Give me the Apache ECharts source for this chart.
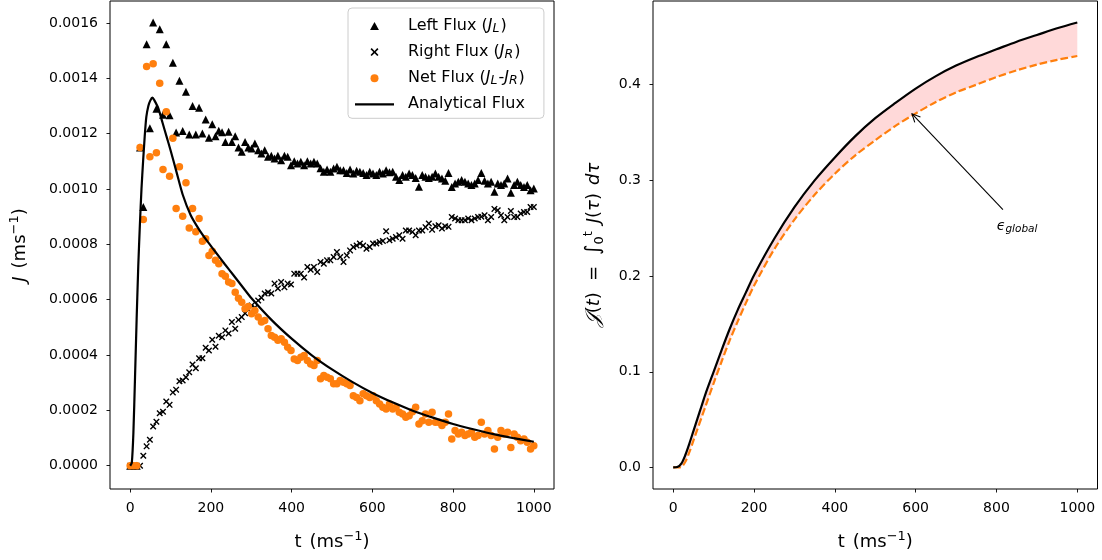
<!DOCTYPE html>
<html><head><meta charset="utf-8">
<script src="https://cdn.jsdelivr.net/npm/echarts@6/dist/echarts.min.js"></script>
<style>html,body{margin:0;padding:0;background:#fff}#c{width:1102px;height:560px}</style>
</head><body><div id="c"></div>
<script>
// ---- data ----
const times = [0,8.1,16.3,24.4,32.5,40.7,48.8,56.9,65,73.2,81.3,89.4,97.6,105.7,113.8,122,130.1,138.2,146.3,154.5,162.6,170.7,178.9,187,195.1,203.3,211.4,219.5,227.6,235.8,243.9,252,260.2,268.3,276.4,284.6,292.7,300.8,308.9,317.1,325.2,333.3,341.5,349.6,357.7,365.9,374,382.1,390.2,398.4,406.5,414.6,422.8,430.9,439,447.2,455.3,463.4,471.5,479.7,487.8,495.9,504.1,512.2,520.3,528.5,536.6,544.7,552.8,561,569.1,577.2,585.4,593.5,601.6,609.8,617.9,626,634.1,642.3,650.4,658.5,666.7,674.8,682.9,691.1,699.2,707.3,715.4,723.6,731.7,739.8,748,756.1,764.2,772.4,780.5,788.6,796.7,804.9,813,821.1,829.3,837.4,845.5,853.7,861.8,869.9,878,886.2,894.3,902.4,910.6,918.7,926.8,935,943.1,951.2,959.3,967.5,975.6,983.7,991.9,1000];

const leftFlux = [0,0,0,0.00115,0.000935,0.001523,0.001219,0.001601,0.00129,0.001577,
0.001268,0.001523,0.001266,0.001456,0.001204,0.001391,0.001209,0.001351,0.001197,0.0013,
0.001197,0.001293,0.0012,0.001251,0.001185,0.001234,0.00119,0.00121,0.001205,0.00117,
0.001207,0.00117,0.00119,0.00115,0.001134,0.00117,0.00115,0.001146,0.001164,0.00114,
0.001128,0.00114,0.001116,0.00112,0.00111,0.00112,0.001104,0.00112,0.001116,0.001086,
0.0011,0.001092,0.001098,0.001086,0.0011,0.001092,0.001098,0.001092,0.001075,0.001062,
0.00107,0.001062,0.001074,0.00108,0.001068,0.001068,0.001058,0.00107,0.001056,0.001066,
0.001062,0.001058,0.00105,0.001062,0.001056,0.00105,0.001062,0.001056,0.001068,0.00106,
0.001062,0.001044,0.001032,0.00105,0.001044,0.001056,0.00105,0.00104,0.001008,0.00105,
0.001044,0.00104,0.001044,0.001056,0.001044,0.001038,0.00103,0.001058,0.001007,0.00102,
0.001026,0.001032,0.001026,0.00102,0.001014,0.00102,0.001032,0.001058,0.00103,0.00102,
0.001026,0.00099,0.00102,0.001014,0.00102,0.001038,0.000986,0.001014,0.001026,0.001014,
0.001007,0.001014,0.000995,0.001002];

const rightFlux = [0,0,0,0,0.000036,0.00007,0.000094,0.000142,0.000159,0.00019,
0.000195,0.000232,0.00022,0.000265,0.000275,0.000305,0.000308,0.00032,0.000338,0.000366,
0.000352,0.000388,0.000388,0.000426,0.000416,0.000455,0.00043,0.00047,0.000464,0.000489,
0.000478,0.000519,0.000495,0.000527,0.000537,0.000551,0.000564,0.000579,0.000572,0.000597,
0.000607,0.000622,0.000627,0.000622,0.000658,0.00064,0.000664,0.000645,0.000658,0.000655,
0.000694,0.000694,0.000694,0.00068,0.000718,0.000708,0.000718,0.0007,0.000736,0.00073,
0.000742,0.000742,0.000754,0.000772,0.000754,0.000736,0.00076,0.000778,0.00079,0.000796,
0.000803,0.000796,0.000784,0.00079,0.000803,0.000803,0.000808,0.000812,0.000847,0.000815,
0.00082,0.000826,0.000833,0.00082,0.00085,0.00085,0.000845,0.000833,0.00085,0.00085,
0.000862,0.000875,0.000853,0.000865,0.000869,0.000857,0.000865,0.000863,0.000899,0.000893,
0.000887,0.000887,0.000887,0.000893,0.000887,0.000893,0.000899,0.0009,0.000905,0.000887,
0.000899,0.000928,0.000923,0.000905,0.000887,0.000899,0.00092,0.000899,0.000899,0.000911,
0.000917,0.000917,0.000935,0.000935];

const netFlux = [0,0,0,0.00115,0.00089,0.001442,0.001116,0.001452,0.001131,0.001382,
0.00107,0.001279,0.001046,0.001183,0.000929,0.00108,0.000901,0.001022,0.000859,0.000929,
0.000845,0.000893,0.000811,0.00082,0.00076,0.000775,0.000742,0.00073,0.000694,0.000685,
0.000664,0.000658,0.000627,0.000605,0.000591,0.000567,0.000575,0.000549,0.000561,0.000537,
0.000519,0.000525,0.000495,0.000471,0.000464,0.000453,0.000459,0.000446,0.000428,0.000416,
0.000386,0.00038,0.000392,0.000398,0.00038,0.000368,0.000362,0.00038,0.000314,0.000326,
0.00032,0.000314,0.000296,0.000296,0.000308,0.000302,0.000296,0.00029,0.000253,0.000247,
0.000235,0.00026,0.000253,0.000247,0.000253,0.000235,0.000223,0.000211,0.000205,0.000223,
0.000205,0.000211,0.000193,0.000187,0.000175,0.000181,0.000195,0.000211,0.000151,0.000163,
0.000187,0.000157,0.000193,0.000157,0.000157,0.000145,0.000157,0.000187,0.0000967,0.000127,
0.000115,0.000121,0.000109,0.000115,0.000121,0.000103,0.000109,0.000157,0.000115,0.000127,
0.000109,0.0000604,0.000103,0.000127,0.000115,0.000121,0.0000663,0.000115,0.000103,0.0000905,
0.000097,0.0000845,0.0000604,0.000072];

const analyticT = [0,4,8,12,16,20,24,28,32,36,40,45,50,55,60,70,80,90,100,115,130,150,170,190,210,235,255,280,300,350,400,450,500,550,600,650,700,750,800,850,900,950,1000];
const analyticJ = [0,0.00001,0.00012,0.00032,0.00053,0.00072,0.00087,0.001,0.0011,0.00119,0.00126,0.0013,0.00132,0.00133,0.00132,0.00129,0.00124,0.00119,0.00114,0.00106,0.00098,0.000905,0.000855,0.000813,0.000775,0.000727,0.00069,0.000643,0.000606,0.000527,0.000459,0.000399,0.000348,0.000303,0.000263,0.000229,0.000199,0.000174,0.000151,0.000132,0.000114,0.0000995,0.0000866];

const cumT = [0,10,20,30,40,50,60,70,80,100,120,140,160,180,200,250,300,350,400,450,500,550,600,650,700,750,800,850,900,950,1000];
const cumAnalytic = [0,0.0004,0.004,0.013,0.025,0.038,0.051,0.064,0.077,0.1,0.123,0.145,0.165,0.183,0.201,0.239,0.272,0.3,0.324,0.346,0.365,0.381,0.396,0.409,0.42,0.429,0.437,0.445,0.452,0.459,0.465];
const cumNet = [0,0,0.0005,0.006,0.016,0.028,0.04,0.052,0.064,0.088,0.111,0.133,0.153,0.172,0.19,0.228,0.259,0.285,0.307,0.326,0.342,0.357,0.37,0.382,0.392,0.4,0.408,0.415,0.421,0.426,0.43];

const xTicks = [0,200,400,600,800,1000];
const yTicksLeft = [0,0.0002,0.0004,0.0006,0.0008,0.001,0.0012,0.0014,0.0016];
const yTicksRight = [0,0.1,0.2,0.3,0.4];

// annotation (data coordinates)
const arrowTail = [816, 0.2694];
const arrowHead = [591, 0.3696];
const arrowText = [851, 0.252];

// ---- chart ----
const FF = 'DejaVu Sans';
const pair = (xs, ys) => xs.map((x, i) => [x, ys[i]]);
const ORANGE = '#ff7f0e';

const nameRich = {
  n: {fontSize: 18, fontFamily: FF, color: '#000', lineHeight: 24},
  i: {fontSize: 18, fontFamily: FF, fontStyle: 'italic', color: '#000', lineHeight: 24},
  sp: {fontSize: 18, fontFamily: FF, color: '#000', lineHeight: 24, width: 8},
  sp2: {fontSize: 18, fontFamily: FF, color: '#000', lineHeight: 24, width: 11},
  sup: {fontSize: 13, fontFamily: FF, color: '#000', verticalAlign: 'top', lineHeight: 24},
  sub: {fontSize: 13, fontFamily: FF, color: '#000', verticalAlign: 'bottom', lineHeight: 24},
  cal: {fontSize: 20, fontFamily: FF, fontStyle: 'italic', color: '#000', lineHeight: 24},
  int: {fontSize: 20, fontFamily: FF, color: '#000', lineHeight: 24}
};

function xAxisCfg(gi) {
  return {
    type: 'value', gridIndex: gi, min: -50, max: 1050,
    axisLine: {show: false, onZero: false}, splitLine: {show: false},
    axisTick: {show: true, inside: false, length: 3.5, lineStyle: {color: '#000', width: 0.9}, customValues: xTicks},
    axisLabel: {customValues: xTicks, color: '#000', fontSize: 14, fontFamily: FF, margin: 12, formatter: v => String(v)},
    name: '{n|t}{sp|}{n|(ms}{sup|−1}{n|)}', nameLocation: 'middle', nameGap: 41,
    nameTextStyle: {rich: nameRich}
  };
}

const legendLabels = {
  'Left Flux': '{n|Left Flux (}{i|J}{sub|L}{n|)}',
  'Right Flux': '{n|Right Flux (}{i|J}{sub|R}{n|)}',
  'Net Flux': '{n|Net Flux (}{i|J}{sub|L}{n|-}{i|J}{sub|R}{n|)}',
  'Analytical Flux': '{n|Analytical Flux}'
};

const triPath = 'path://M5,0 L10,9 L0,9 Z';
const crossPath = 'path://M1.5,0 L5,3.5 L8.5,0 L10,1.5 L6.5,5 L10,8.5 L8.5,10 L5,6.5 L1.5,10 L0,8.5 L3.5,5 L0,1.5 Z';
const linePath = 'path://M0,0 L39,0 L39,2.2 L0,2.2 Z';

const option = {
  animation: false,
  textStyle: {fontFamily: FF},
  grid: [
    {left: 110, top: 1, width: 444, height: 488, show: true, borderColor: '#000', borderWidth: 1, backgroundColor: 'transparent'},
    {left: 653, top: 1, width: 444.5, height: 488, show: true, borderColor: '#000', borderWidth: 1, backgroundColor: 'transparent'}
  ],
  xAxis: [xAxisCfg(0), xAxisCfg(1)],
  yAxis: [
    {
      type: 'value', gridIndex: 0, min: -0.000084, max: 0.001679,
      axisLine: {show: false, onZero: false}, splitLine: {show: false},
      axisTick: {show: true, inside: false, length: 3.5, lineStyle: {color: '#000', width: 0.9}, customValues: yTicksLeft},
      axisLabel: {customValues: yTicksLeft, color: '#000', fontSize: 14, fontFamily: FF, margin: 12, formatter: v => v.toFixed(4)},
      name: '{i|J}{sp|}{n|(ms}{sup|−1}{n|)}', nameLocation: 'middle', nameGap: 78, nameRotate: 90,
      nameTextStyle: {rich: nameRich}
    },
    {
      type: 'value', gridIndex: 1, min: -0.0225, max: 0.4875,
      axisLine: {show: false, onZero: false}, splitLine: {show: false},
      axisTick: {show: true, inside: false, length: 3.5, lineStyle: {color: '#000', width: 0.9}, customValues: yTicksRight},
      axisLabel: {customValues: yTicksRight, color: '#000', fontSize: 14, fontFamily: FF, margin: 12, formatter: v => v.toFixed(1)},
      name: '{cal|𝒥}{n|(}{i|t}{n|)}{sp2|}{n|=}{sp2|}{int|∫}{sub|0}{sup|t}{sp|}{i|J}{n|(}{i|τ}{n|)}{sp|}{i|dτ}',
      nameLocation: 'middle', nameGap: 47, nameRotate: 90,
      nameTextStyle: {rich: nameRich}
    }
  ],
  legend: {
    orient: 'vertical', left: 348, top: 8,
    data: [
      {name: 'Left Flux', icon: triPath},
      {name: 'Right Flux', icon: crossPath},
      {name: 'Net Flux', icon: 'circle'},
      {name: 'Analytical Flux', icon: linePath}
    ],
    symbolKeepAspect: true,
    formatter: n => legendLabels[n],
    itemWidth: 39, itemHeight: 8, itemGap: 9.1,
    padding: [10, 19, 6, 7],
    backgroundColor: 'rgba(255,255,255,0.8)', borderColor: '#cccccc', borderWidth: 1, borderRadius: 4,
    textStyle: {
      padding: [0, 0, 0, 9],
      rich: {
        n: {fontSize: 16, fontFamily: FF, color: '#000', lineHeight: 18},
        i: {fontSize: 16, fontFamily: FF, fontStyle: 'italic', color: '#000', lineHeight: 18},
        sub: {fontSize: 12.5, fontFamily: FF, fontStyle: 'italic', color: '#000', verticalAlign: 'bottom', lineHeight: 18, padding: [0, 1, 0, 0]}
      }
    }
  },
  series: [
    {name: 'Left Flux', type: 'scatter', xAxisIndex: 0, yAxisIndex: 0, symbol: triPath, symbolSize: 8,
      itemStyle: {color: '#000', opacity: 1}, data: pair(times, leftFlux), z: 2},
    {name: 'Right Flux', type: 'scatter', xAxisIndex: 0, yAxisIndex: 0, symbol: crossPath, symbolSize: 6.5,
      itemStyle: {color: '#000', opacity: 1}, data: pair(times, rightFlux), z: 3},
    {name: 'Net Flux', type: 'scatter', xAxisIndex: 0, yAxisIndex: 0, symbol: 'circle', symbolSize: 7.5,
      itemStyle: {color: ORANGE, opacity: 1}, data: pair(times, netFlux), z: 4},
    {name: 'Analytical Flux', type: 'line', xAxisIndex: 0, yAxisIndex: 0, symbol: 'none', smooth: 0.2,
      lineStyle: {color: '#000', width: 2.2}, itemStyle: {color: '#000'}, data: pair(analyticT, analyticJ), z: 5},
    {name: 'gap', type: 'custom', xAxisIndex: 1, yAxisIndex: 1, silent: true, z: 1, data: [[0, 0]],
      renderItem: (params, api) => {
        const pts = [];
        for (let i = 0; i < cumT.length; i++) pts.push(api.coord([cumT[i], cumAnalytic[i]]));
        for (let i = cumT.length - 1; i >= 0; i--) pts.push(api.coord([cumT[i], cumNet[i]]));
        return {type: 'polygon', shape: {points: pts, smooth: 0}, style: {fill: 'rgba(255,0,0,0.15)'}};
      }},
    {name: 'cumAnalytic', type: 'line', xAxisIndex: 1, yAxisIndex: 1, symbol: 'none', smooth: 0.3,
      lineStyle: {color: '#000', width: 2.2}, data: pair(cumT, cumAnalytic), z: 4},
    {name: 'cumNet', type: 'line', xAxisIndex: 1, yAxisIndex: 1, symbol: 'none', smooth: 0.3,
      lineStyle: {color: ORANGE, width: 2.2, type: [7.5, 3.2]}, data: pair(cumT, cumNet), z: 3},
    {name: 'annot', type: 'custom', xAxisIndex: 1, yAxisIndex: 1, silent: true, z: 6, data: [[0, 0]],
      renderItem: (params, api) => {
        const a = api.coord(arrowTail), b = api.coord(arrowHead), t = api.coord(arrowText);
        const ang = Math.atan2(a[1] - b[1], a[0] - b[0]);
        const L = 9, w = 0.45;
        const p1 = [b[0] + L * Math.cos(ang + w), b[1] + L * Math.sin(ang + w)];
        const p2 = [b[0] + L * Math.cos(ang - w), b[1] + L * Math.sin(ang - w)];
        return {type: 'group', children: [
          {type: 'line', shape: {x1: a[0], y1: a[1], x2: b[0], y2: b[1]}, style: {stroke: '#000', lineWidth: 1.1}},
          {type: 'polyline', shape: {points: [p1, b, p2]}, style: {stroke: '#000', lineWidth: 1.1, fill: null}},
          {type: 'text', x: t[0], y: t[1], style: {
            text: '{e|ϵ}{s|global}', align: 'center', verticalAlign: 'middle',
            rich: {
              e: {fontSize: 14, fontFamily: FF, fontStyle: 'italic', fill: '#000', lineHeight: 17},
              s: {fontSize: 10.5, fontFamily: FF, fontStyle: 'italic', fill: '#000', verticalAlign: 'bottom', lineHeight: 17}
            }}}
        ]};
      }}
  ]
};
const chart = echarts.init(document.getElementById('c'), null, {renderer: 'canvas'});
chart.setOption(option);
</script></body></html>
